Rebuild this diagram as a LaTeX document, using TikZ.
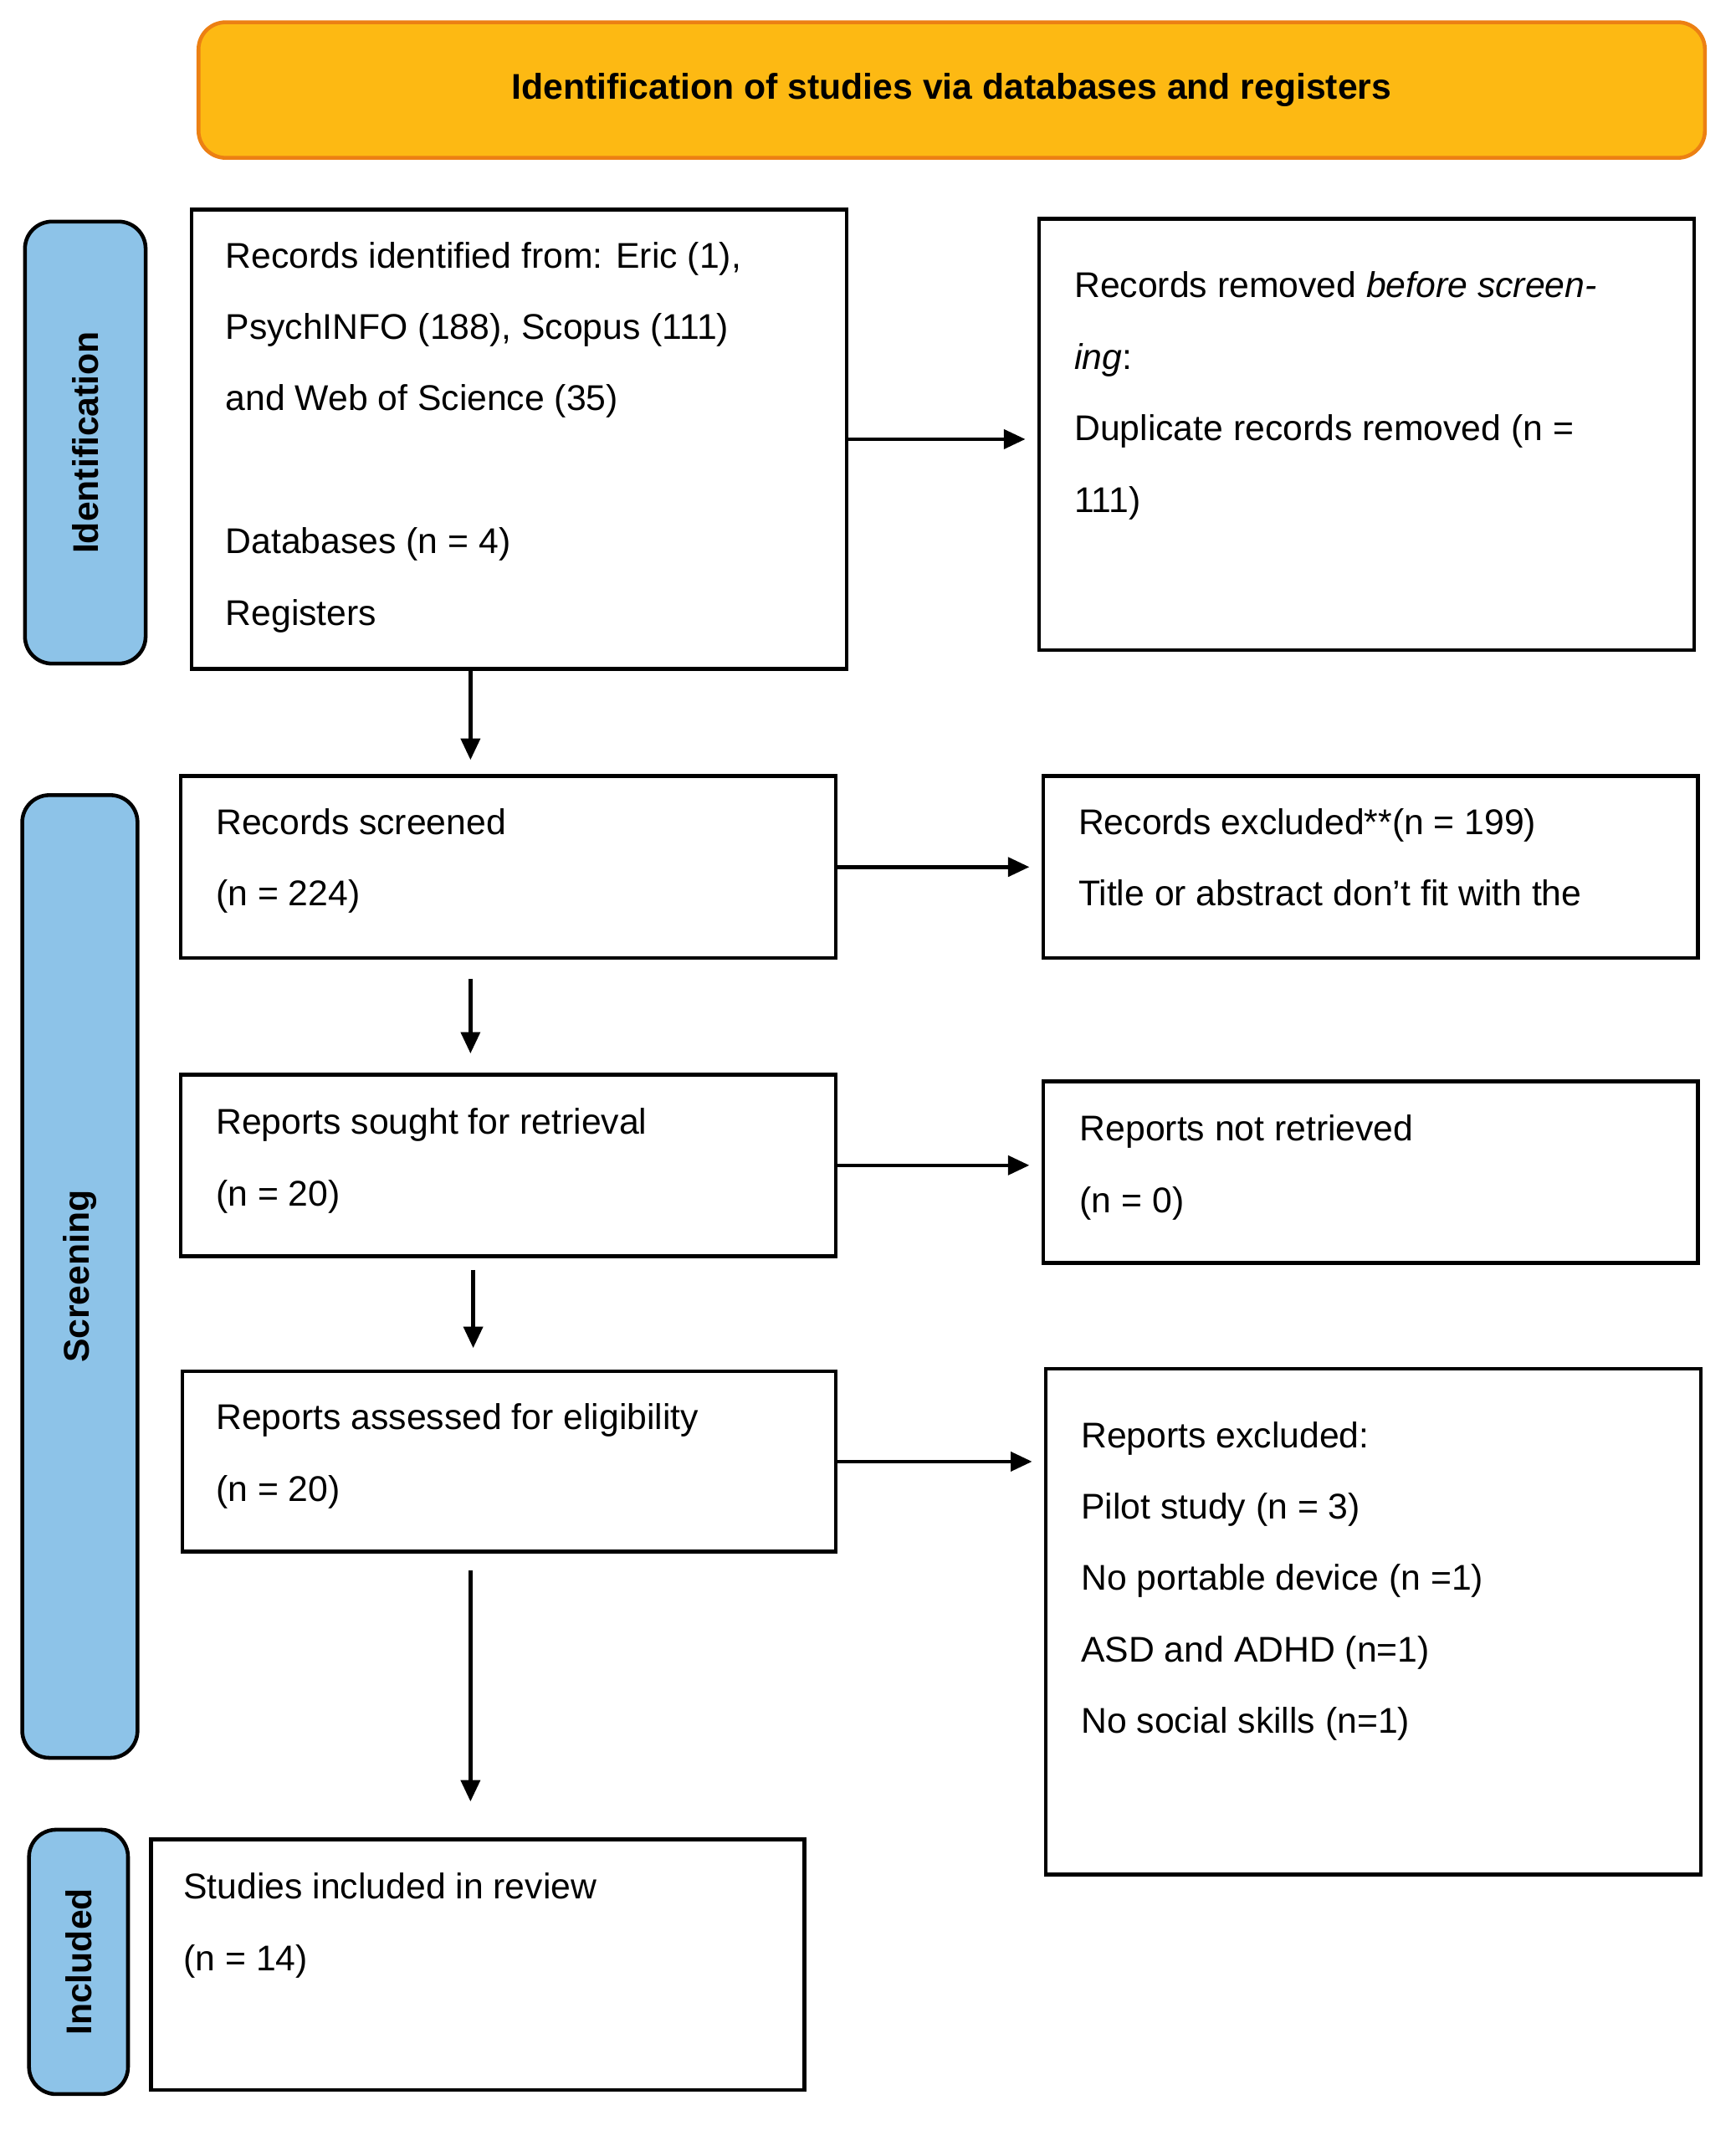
\documentclass[tikz,border=0pt]{standalone}
\usepackage{fontspec}
\setmainfont{Liberation Sans}
\usetikzlibrary{positioning,arrows.meta}

\begin{document}
\begin{tikzpicture}[x=0.02cm,y=-0.02cm,line width=1.6pt]
    % `box' is used for the flow boxes, `txt' for the text inside them.
    % `side' is used for the blue stage labels on the left.
    \tikzstyle{box} = [draw,inner sep=0pt,anchor=north west]
    \tikzstyle{txt} = [anchor=north west,inner sep=0pt,align=left,font=\fontsize{15}{30}\selectfont]
    \tikzstyle{side} = [draw,fill=sideblue,rounded corners=4mm,inner sep=0pt,anchor=north west]
    \tikzstyle{flow} = [-{Triangle[length=9pt,width=8pt]},line width=1.6pt]
    \definecolor{sideblue}{HTML}{8DC3E8}
    \definecolor{headorange}{HTML}{FDB913}
    \useasboundingbox (0,0) rectangle (1280,1579);
    %
    \node[draw=orange!70!brown,fill=headorange,rounded corners=4mm,anchor=north west,minimum width=1111*0.02cm,minimum height=100*0.02cm] (head) at (145,15) {\fontsize{15}{18}\selectfont\bfseries Identification of studies via databases and registers};
    %
    \node[side,minimum width=89*0.02cm,minimum height=326*0.02cm] (sideid) at (17,162) {};
    \node[rotate=90,font=\fontsize{15}{18}\selectfont\bfseries] (sideidtxt) at (sideid.center) {Identification};
    \node[side,minimum width=85*0.02cm,minimum height=710*0.02cm] (sidescr) at (15,585) {};
    \node[rotate=90,font=\fontsize{15}{18}\selectfont\bfseries] (sidescrtxt) at (sidescr.center) {Screening};
    \node[side,minimum width=73*0.02cm,minimum height=195*0.02cm] (sideinc) at (20,1348) {};
    \node[rotate=90,font=\fontsize{15}{18}\selectfont\bfseries] (sideinctxt) at (sideinc.center) {Included};
    %
    \node[box,minimum width=483*0.02cm,minimum height=339*0.02cm] (ident) at (140,153) {};
    \node[txt] (identtxt) at (165,177) {Records identified from: Eric (1),\\PsychINFO (188), Scopus (111)\\and Web of Science (35)\\[30pt]Databases (n = 4)\\Registers};
    \node[box,minimum width=483*0.02cm,minimum height=318*0.02cm] (removed) at (765,160) {};
    \node[txt] (removedtxt) at (791,199) {Records removed \textit{before screen-}\\\textit{ing}:\\Duplicate records removed (n =\\111)};
    %
    \node[box,minimum width=483*0.02cm,minimum height=134*0.02cm] (screened) at (132,571) {};
    \node[txt] (screenedtxt) at (158,595) {Records screened\\(n = 224)};
    \node[box,minimum width=483*0.02cm,minimum height=134*0.02cm] (excl) at (768,571) {};
    \node[txt] (excltxt) at (794,595) {Records excluded**(n = 199)\\Title or abstract don’t fit with the};
    %
    \node[box,minimum width=483*0.02cm,minimum height=134*0.02cm] (sought) at (132,791) {};
    \node[txt] (soughttxt) at (158,816) {Reports sought for retrieval\\(n = 20)};
    \node[box,minimum width=483*0.02cm,minimum height=134*0.02cm] (notret) at (768,796) {};
    \node[txt] (notrettxt) at (795,821) {Reports not retrieved\\(n = 0)};
    %
    \node[box,minimum width=482*0.02cm,minimum height=133*0.02cm] (assess) at (133,1010) {};
    \node[txt] (assesstxt) at (158,1034) {Reports assessed for eligibility\\(n = 20)};
    \node[box,minimum width=483*0.02cm,minimum height=373*0.02cm] (repexcl) at (770,1008) {};
    \node[txt] (repexcltxt) at (796,1047) {Reports excluded:\\Pilot study (n = 3)\\No portable device (n =1)\\ASD and ADHD (n=1)\\No social skills (n=1)};
    %
    \node[box,minimum width=482*0.02cm,minimum height=185*0.02cm] (incl) at (110,1355) {};
    \node[txt] (incltxt) at (134,1380) {Studies included in review\\(n = 14)};
    %
    \draw[flow,shorten >=5pt] (ident.east) -- (removed.west |- ident.east);
    \draw[flow,shorten >=6pt] (ident.south -| 347,0) -- (screened.north -| 347,0);
    \draw[flow,shorten >=5pt] (screened.east) -- (excl.west);
    \draw[flow,shorten <=8pt,shorten >=8pt] (screened.south -| 347,0) -- (sought.north -| 347,0);
    \draw[flow,shorten >=5pt] (sought.east) -- (notret.west |- sought.east);
    \draw[flow,shorten <=5pt,shorten >=9pt] (sought.south -| 349,0) -- (assess.north -| 349,0);
    \draw[flow,shorten >=5pt] (assess.east) -- (repexcl.west |- assess.east);
    \draw[flow,shorten <=7pt,shorten >=15pt] (assess.south -| 347,0) -- (incl.north -| 347,0);
\end{tikzpicture}
\end{document}
